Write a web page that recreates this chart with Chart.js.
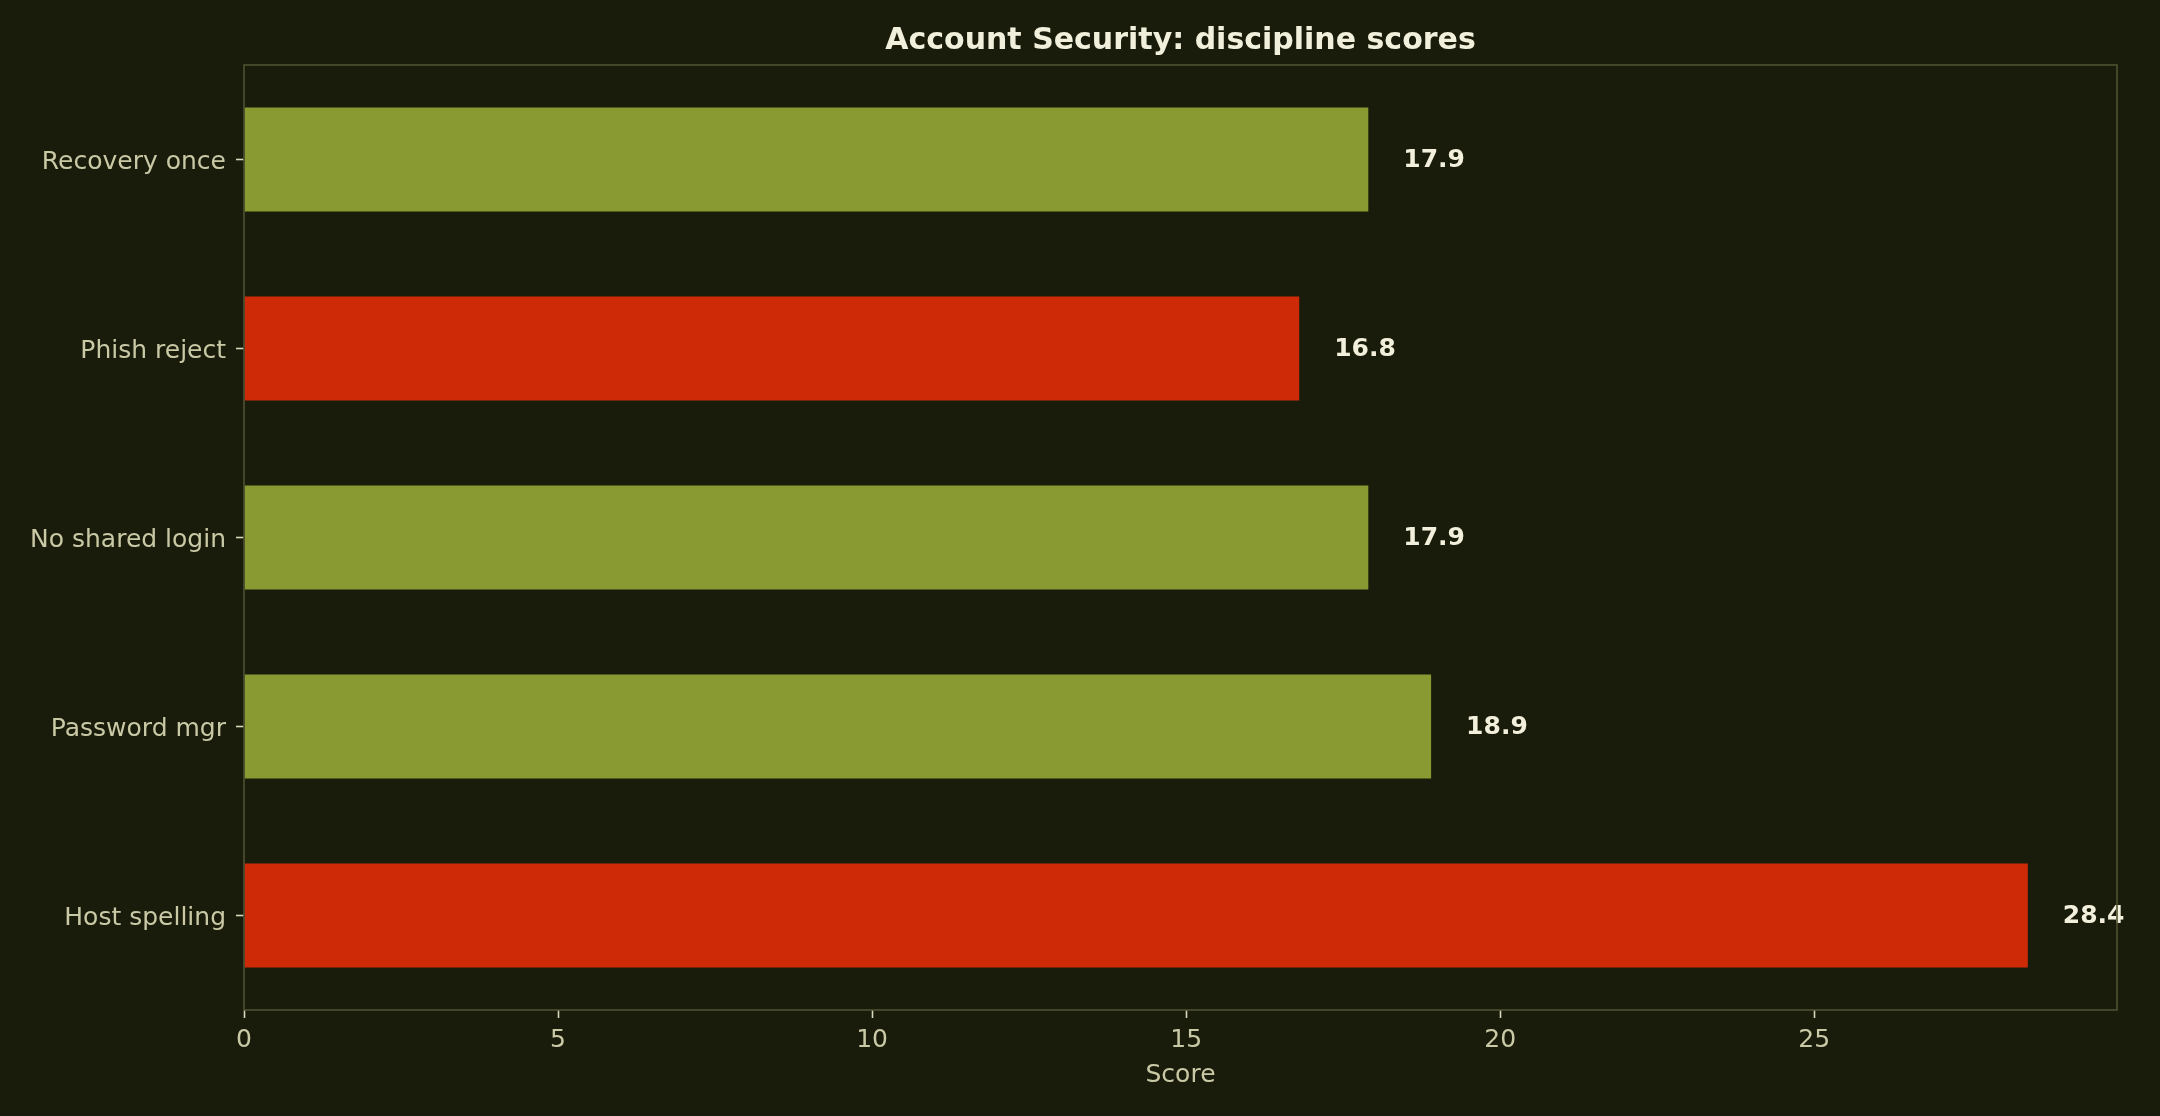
<!DOCTYPE html>
<html>
<head>
<meta charset="utf-8">
<script src="https://cdn.jsdelivr.net/npm/chart.js@4.4.1/dist/chart.umd.min.js"></script>
<style>
  html, body { margin: 0; padding: 0; background: #1a1c0b; }
  #wrap { width: 2160px; height: 1116px; }
</style>
</head>
<body>
<div id="wrap"><canvas id="scores" width="2160" height="1116"></canvas></div>
<script>
// discipline scores, top to bottom as in the picture
const categories = ['Recovery once', 'Phish reject', 'No shared login', 'Password mgr', 'Host spelling'];
const scores = [17.9, 16.8, 17.9, 18.9, 28.4];
const flagged = [false, true, false, false, true];
const xTicks = [0, 5, 10, 15, 20, 25];

const GREEN = '#8a9a32';
const RED = '#cf2a08';
const TEXT = '#c9c9a6';
const SPINE = '#4e5230';

Chart.defaults.font.family = '"DejaVu Sans", sans-serif';
Chart.defaults.color = TEXT;

// frame round the plot area
const framePlugin = {
    id: 'frame',
    afterDraw(chart) {
        const a = chart.chartArea;
        const ctx = chart.ctx;
        ctx.save();
        ctx.strokeStyle = SPINE;
        ctx.lineWidth = 1.6;
        ctx.strokeRect(a.left, a.top, a.right - a.left, a.bottom - a.top);
        ctx.restore();
    }
};

// value written to the right of each bar
const valueLabels = {
    id: 'valueLabels',
    afterDatasetsDraw(chart) {
        const ctx = chart.ctx;
        const meta = chart.getDatasetMeta(0);
        ctx.save();
        ctx.font = 'bold 25px "DejaVu Sans"';
        ctx.fillStyle = '#f2f0dc';
        ctx.textAlign = 'left';
        ctx.textBaseline = 'middle';
        meta.data.forEach((bar, i) => {
            ctx.fillText(scores[i].toFixed(1), bar.x + 35, bar.y + 1);
        });
        ctx.restore();
    }
};

new Chart(document.getElementById('scores'), {
    type: 'bar',
    data: {
        labels: categories,
        datasets: [{
            label: 'Score',
            data: scores,
            backgroundColor: flagged.map(f => f ? RED : GREEN),
            borderWidth: 0,
            categoryPercentage: 1.0,
            barPercentage: 0.55
        }]
    },
    options: {
        indexAxis: 'y',
        responsive: false,
        animation: false,
        devicePixelRatio: 1,
        layout: { padding: { top: 0, right: 43, bottom: 0, left: 0 } },
        plugins: {
            legend: { display: false },
            tooltip: { enabled: false },
            title: {
                display: true,
                text: 'Account Security: discipline scores',
                fullSize: false,
                color: '#f0f0dc',
                font: { size: 30, weight: 'bold' },
                padding: { top: 23, bottom: 6 }
            }
        },
        scales: {
            x: {
                type: 'linear',
                min: 0,
                max: 29.82,
                afterBuildTicks: s => { s.ticks = xTicks.map(v => ({ value: v })); },
                afterFit: s => { s.height = 106; },
                border: { display: false },
                grid: {
                    display: true,
                    drawOnChartArea: false,
                    drawTicks: true,
                    tickLength: 8,
                    tickWidth: 1.6,
                    tickColor: '#d8d8bc'
                },
                ticks: { font: { size: 25 }, color: TEXT, padding: 7, maxRotation: 0 },
                title: {
                    display: true,
                    text: 'Score',
                    color: TEXT,
                    font: { size: 25 },
                    padding: { top: 0, bottom: 26 }
                }
            },
            y: {
                afterFit: s => { s.width = 244; },
                border: { display: false },
                grid: {
                    display: true,
                    offset: false,
                    drawOnChartArea: false,
                    drawTicks: true,
                    tickLength: 8,
                    tickWidth: 1.6,
                    tickColor: '#d8d8bc'
                },
                ticks: { font: { size: 25 }, color: TEXT, padding: 10, labelOffset: 3 }
            }
        }
    },
    plugins: [framePlugin, valueLabels]
});
</script>
</body>
</html>
